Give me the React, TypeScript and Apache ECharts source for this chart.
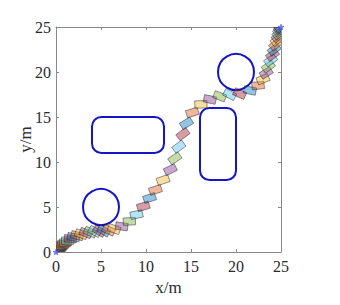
import React, { useEffect, useRef } from 'react';
import * as echarts from 'echarts';

// Vehicle footprint reference points along the path (m)
const pathX = [0, 0.08, 0.16, 0.25, 0.35, 0.46, 0.58, 0.72, 0.88, 1.06, 1.3, 1.6, 1.95, 2.35, 2.8, 3.3, 3.8, 4.3, 4.8, 5.3, 5.85, 6.45, 7.3, 8.15, 8.95, 9.7, 10.4, 11.05, 11.9, 12.7, 13.2, 13.65, 14.1, 14.5, 15.15, 16.1, 17.1, 18.2, 19.3, 20.4, 21.55, 22.45, 23.0, 23.35, 23.6, 23.85, 24.05, 24.25, 24.4, 24.55, 24.67, 24.77, 24.85, 24.93, 25];
const pathY = [0, 0.08, 0.17, 0.27, 0.38, 0.5, 0.63, 0.77, 0.92, 1.08, 1.27, 1.47, 1.65, 1.82, 1.98, 2.1, 2.2, 2.28, 2.32, 2.35, 2.42, 2.55, 2.85, 3.4, 4.15, 5.07, 6.0, 6.9, 8.0, 9.15, 10.4, 11.7, 13.1, 14.3, 15.5, 16.4, 16.95, 17.3, 17.5, 17.6, 17.95, 18.5, 19.2, 19.9, 20.6, 21.3, 21.9, 22.5, 23.05, 23.55, 23.95, 24.3, 24.6, 24.82, 25];

// Obstacles
const circleObstacles = [
  [5, 5, 2],
  [20, 20, 2],
];
const rectObstacles = [
  [4, 11, 12, 15],
  [16, 8, 20, 16],
];
const startEnd = [
  [0, 0],
  [25, 25],
];

const axisTicks = [0, 5, 10, 15, 20, 25];

const palette = [
  'rgba(0,114,189,0.42)',
  'rgba(217,83,25,0.42)',
  'rgba(237,177,32,0.42)',
  'rgba(126,47,142,0.42)',
  'rgba(119,172,48,0.42)',
  'rgba(77,190,238,0.42)',
  'rgba(162,20,47,0.42)',
];

const FONT = "'Liberation Serif', 'Times New Roman', serif";
const OBST = '#1414c8';

export default function App() {
  const ref = useRef<HTMLDivElement>(null);
  useEffect(() => {
    document.body.style.margin = '0';
    const chart = echarts.init(ref.current!, null, { renderer: 'svg' });
    const n = pathX.length;
    const offset = (35 * Math.PI) / 180;
    const footprints = pathX.map((x, i) => {
      const a = Math.max(0, i - 1);
      const b = Math.min(n - 1, i + 1);
      const h = Math.atan2(pathY[b] - pathY[a], pathX[b] - pathX[a]);
      return [x, pathY[i], h - offset, (i + 2) % palette.length];
    });
    const axisMin = axisTicks[0];
    const axisMax = axisTicks[axisTicks.length - 1];
    const interval = axisTicks[1] - axisTicks[0];
    const baseAxis = {
      type: 'value',
      min: axisMin,
      max: axisMax,
      interval,
      splitLine: { show: false },
      axisLine: { show: true, onZero: false, lineStyle: { color: '#8a8a8a', width: 1 } },
      axisTick: { show: true, inside: true, length: 3, lineStyle: { color: '#8a8a8a' } },
    };
    const labelStyle = { color: '#2a2a2a', fontFamily: FONT, fontSize: 16 };
    chart.setOption({
      animation: false,
      grid: { left: 56, right: 59, top: 27, bottom: 53 },
      xAxis: [
        {
          ...baseAxis,
          position: 'bottom',
          axisLabel: { ...labelStyle, margin: 6 },
          name: 'x/m',
          nameLocation: 'middle',
          nameGap: 27,
          nameMoveOverlap: false,
          nameTextStyle: { color: '#2a2a2a', fontFamily: FONT, fontSize: 17 },
        },
        { ...baseAxis, position: 'top', axisLabel: { show: false } },
      ],
      yAxis: [
        {
          ...baseAxis,
          position: 'left',
          axisLabel: { ...labelStyle, margin: 5 },
          name: 'y/m',
          nameLocation: 'middle',
          nameGap: 22,
          nameMoveOverlap: false,
          nameTextStyle: { color: '#2a2a2a', fontFamily: FONT, fontSize: 17 },
        },
        { ...baseAxis, position: 'right', axisLabel: { show: false } },
      ],
      series: [
        {
          type: 'custom',
          name: 'circles',
          xAxisIndex: 0,
          yAxisIndex: 0,
          data: circleObstacles,
          renderItem: (_p: any, api: any) => {
            const c = api.coord([api.value(0), api.value(1)]);
            const r = api.size([api.value(2), 0])[0];
            return {
              type: 'circle',
              shape: { cx: c[0], cy: c[1], r },
              style: { fill: 'none', stroke: OBST, lineWidth: 2 },
            };
          },
        },
        {
          type: 'custom',
          name: 'rects',
          xAxisIndex: 0,
          yAxisIndex: 0,
          data: rectObstacles,
          renderItem: (_p: any, api: any) => {
            const p1 = api.coord([api.value(0), api.value(3)]);
            const p2 = api.coord([api.value(2), api.value(1)]);
            const r = api.size([1.05, 0])[0];
            return {
              type: 'rect',
              shape: { x: p1[0], y: p1[1], width: p2[0] - p1[0], height: p2[1] - p1[1], r },
              style: { fill: 'none', stroke: OBST, lineWidth: 2 },
            };
          },
        },
        {
          type: 'custom',
          name: 'footprints',
          xAxisIndex: 0,
          yAxisIndex: 0,
          clip: true,
          data: footprints,
          renderItem: (_p: any, api: any) => {
            const x = api.value(0);
            const y = api.value(1);
            const a = api.value(2);
            const L = 0.68;
            const W = 0.41;
            const ca = Math.cos(a);
            const sa = Math.sin(a);
            const pts = [
              [L, W],
              [-L, W],
              [-L, -W],
              [L, -W],
            ].map(([u, v]) => api.coord([x + u * ca - v * sa, y + u * sa + v * ca]));
            return {
              type: 'polygon',
              shape: { points: pts },
              style: { fill: palette[api.value(3)], stroke: 'rgba(20,20,20,0.75)', lineWidth: 0.6 },
            };
          },
        },
        {
          type: 'scatter',
          data: startEnd,
          symbol:
            'path://M0,-10 L2.35,-3.24 L9.51,-3.09 L3.8,1.24 L5.88,8.09 L0,4 L-5.88,8.09 L-3.8,1.24 L-9.51,-3.09 L-2.35,-3.24 Z',
          symbolSize: 6,
          itemStyle: { color: '#6a6aff', borderColor: '#3030e0', borderWidth: 0.5 },
          z: 5,
        },
      ],
    });
    return () => chart.dispose();
  }, []);
  return <div ref={ref} style={{ width: 340, height: 305 }} />;
}
